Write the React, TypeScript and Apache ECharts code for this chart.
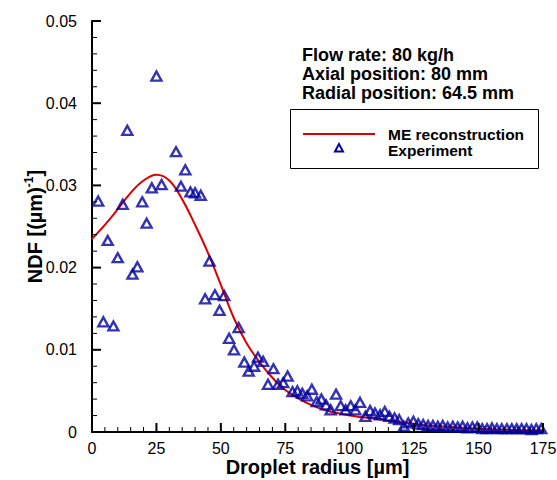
import React, { useEffect, useRef } from "react";
import * as echarts from "echarts";

// ME reconstruction curve (radius in µm, NDF in 1/µm)
const curveR = [0, 5, 10, 15, 20, 25, 30, 35, 40, 45, 50, 55, 60, 65, 70, 75, 80, 85, 90, 95, 100, 105, 110, 115, 120, 125, 130, 135, 140, 145, 150, 155, 160, 165, 170, 175];
const curveV = [0.0235, 0.0252, 0.0271, 0.0291, 0.0306, 0.0313, 0.0306, 0.0283, 0.0252, 0.0218, 0.0179, 0.0139, 0.0108, 0.0085, 0.0066, 0.0051, 0.0041, 0.0033, 0.0027, 0.0023, 0.002, 0.0018, 0.0016, 0.0014, 0.0012, 0.001, 0.0008, 0.0007, 0.0006, 0.0005, 0.0004, 0.0003, 0.0003, 0.0002, 0.0002, 0.0002];

// Experimental points
const expR = [2.4, 4.4, 6.1, 8.3, 10.0, 11.9, 13.7, 15.7, 17.6, 19.5, 21.2, 23.2, 25.0, 27.0, 32.6, 34.5, 36.2, 38.2, 40.0, 42.2, 43.9, 45.6, 47.7, 49.5, 51.3, 53.2, 55.1, 56.9, 59.1, 60.8, 62.9, 64.4, 66.4, 68.3, 70.4, 72.2, 74.2, 75.9, 77.8, 79.7, 81.6, 83.5, 85.3, 87.2, 89.0, 90.8, 92.6, 94.7, 96.5, 98.4, 100.4, 102.2, 104.0, 106.1, 107.9, 109.8, 111.8, 113.6, 115.4, 117.4, 119.2, 121.0, 122.7, 124.7, 126.6, 128.5, 130.4, 132.3, 134.2, 136.1, 138.0, 140.0, 141.9, 143.8, 145.7, 147.6, 149.5, 151.4, 153.3, 155.2, 157.1, 159.0, 161.0, 162.9, 164.8, 166.7, 168.6, 170.5, 172.4, 174.3];
const expV = [0.0281, 0.0134, 0.0233, 0.0129, 0.0212, 0.0277, 0.0367, 0.0192, 0.0201, 0.028, 0.0254, 0.0297, 0.0433, 0.0301, 0.0341, 0.0299, 0.0319, 0.0292, 0.0291, 0.0288, 0.0162, 0.0208, 0.0167, 0.0148, 0.0166, 0.0114, 0.01, 0.0127, 0.0085, 0.0074, 0.008, 0.0091, 0.0086, 0.0058, 0.0077, 0.0058, 0.006, 0.0068, 0.0049, 0.005, 0.0047, 0.0044, 0.0052, 0.0037, 0.004, 0.0033, 0.0027, 0.0046, 0.0032, 0.0027, 0.0032, 0.0027, 0.0036, 0.0019, 0.0026, 0.0023, 0.0021, 0.0025, 0.0019, 0.0017, 0.0015, 0.0007, 0.0011, 0.0013, 0.001, 0.0009, 0.0008, 0.0008, 0.0007, 0.0008, 0.0006, 0.0007, 0.0006, 0.0007, 0.0005, 0.0006, 0.0006, 0.0004, 0.0004, 0.0005, 0.0004, 0.0004, 0.0004, 0.0004, 0.0004, 0.0004, 0.0004, 0.0003, 0.0004, 0.0004];

const annotationLines = ["Flow rate: 80 kg/h", "Axial position: 80 mm", "Radial position: 64.5 mm"];
const legendNames = ["ME reconstruction", "Experiment"];

// Axis ranges / tick steps
const X_MIN = 0, X_MAX = 175, X_MAJOR = 25, X_MINOR = 5;
const Y_MIN = 0, Y_MAX = 0.05, Y_MAJOR = 0.01, Y_MINOR = 0.002;

const GRID = { left: 92, right: 14, top: 21, bottom: 48 };
const W = 557, H = 480;

const FONT = "'Liberation Sans', Arial, Helvetica, sans-serif";
const BLUE = "#0000a0";
const RED = "#dd0000";

export default function App() {
  const ref = useRef<HTMLDivElement>(null);
  useEffect(() => {
    document.body.style.margin = "0";
    if (!ref.current) return;
    const chart = echarts.init(ref.current, null, { renderer: "svg" });

    // axis tick marks (inside), placed on the grid's linear axis extent
    const pw = W - GRID.left - GRID.right;
    const ph = H - GRID.top - GRID.bottom;
    const xPx = (v: number) => GRID.left + ((v - X_MIN) / (X_MAX - X_MIN)) * pw;
    const yPx = (v: number) => H - GRID.bottom - ((v - Y_MIN) / (Y_MAX - Y_MIN)) * ph;
    const ticks: any[] = [];
    const nx = Math.round((X_MAX - X_MIN) / X_MINOR);
    const xEvery = Math.round(X_MAJOR / X_MINOR);
    for (let i = 0; i <= nx; i++) {
      const major = i % xEvery === 0;
      const px = xPx(X_MIN + i * X_MINOR);
      const py = yPx(Y_MIN);
      ticks.push({
        type: "line",
        silent: true,
        shape: { x1: px, y1: py, x2: px, y2: py - (major ? 9 : 5) },
        style: { stroke: "#000000", lineWidth: major ? 2 : 1 },
        z: 50,
      });
    }
    const ny = Math.round((Y_MAX - Y_MIN) / Y_MINOR);
    const yEvery = Math.round(Y_MAJOR / Y_MINOR);
    for (let i = 0; i <= ny; i++) {
      const major = i % yEvery === 0;
      const px = xPx(X_MIN);
      const py = yPx(Y_MIN + i * Y_MINOR);
      ticks.push({
        type: "line",
        silent: true,
        shape: { x1: px, y1: py, x2: px + (major ? 9 : 5), y2: py },
        style: { stroke: "#000000", lineWidth: major ? 2 : 1 },
        z: 50,
      });
    }

    const legendAndText: any[] = [
      ...annotationLines.map((t, i) => ({
        type: "text",
        x: 302,
        y: 46 + i * 19,
        style: { text: t, font: `bold 18px ${FONT}`, fill: "#000" },
        z: 10,
      })),
      {
        type: "rect",
        shape: { x: 290.5, y: 109.5, width: 248, height: 59 },
        style: { fill: "#fff", stroke: "#000", lineWidth: 1 },
        z: 10,
      },
      {
        type: "line",
        shape: { x1: 303, y1: 134, x2: 375, y2: 134 },
        style: { stroke: RED, lineWidth: 2 },
        z: 11,
      },
      {
        type: "polygon",
        shape: { points: [[339, 144], [335, 151.5], [343, 151.5]] },
        style: { fill: "none", stroke: BLUE, lineWidth: 2 },
        z: 11,
      },
      {
        type: "text",
        x: 388,
        y: 134,
        style: { text: legendNames[0], font: `bold 15.5px ${FONT}`, fill: "#000", verticalAlign: "middle" },
        z: 11,
      },
      {
        type: "text",
        x: 388,
        y: 150,
        style: { text: legendNames[1], font: `bold 15.5px ${FONT}`, fill: "#000", verticalAlign: "middle" },
        z: 11,
      },
    ];

    chart.setOption({
      animation: false,
      backgroundColor: "#fff",
      textStyle: { fontFamily: FONT },
      grid: { ...GRID, outerBoundsMode: "none", containLabel: false },
      xAxis: {
        type: "value",
        min: X_MIN,
        max: X_MAX,
        interval: X_MAJOR,
        axisLine: { show: true, onZero: false, lineStyle: { color: "#000000", width: 2 } },
        axisTick: { show: false },
        minorTick: { show: false },
        splitLine: { show: false },
        axisLabel: { show: true, color: "#000", fontSize: 16, fontFamily: FONT, margin: 8 },
        name: "Droplet radius [µm]",
        nameLocation: "middle",
        nameGap: 25,
        nameMoveOverlap: false,
        nameTextStyle: { color: "#000", fontSize: 20, fontWeight: "bold", fontFamily: FONT, verticalAlign: "top" },
      },
      yAxis: {
        type: "value",
        min: Y_MIN,
        max: Y_MAX,
        interval: Y_MAJOR,
        axisLine: { show: true, onZero: false, lineStyle: { color: "#000000", width: 2 } },
        axisTick: { show: false },
        minorTick: { show: false },
        splitLine: { show: false },
        axisLabel: { show: true, color: "#000", fontSize: 16, fontFamily: FONT, margin: 15 },
        name: "{a|NDF [(µm)}{b|-1}{a|]}",
        nameLocation: "middle",
        nameGap: 45,
        nameMoveOverlap: false,
        nameRotate: 90,
        nameTextStyle: {
          color: "#000",
          fontFamily: FONT,
          rich: {
            a: { fontSize: 20, fontWeight: "bold", fontFamily: FONT, color: "#000", lineHeight: 24 },
            b: { fontSize: 12, fontWeight: "bold", fontFamily: FONT, color: "#000", verticalAlign: "top", lineHeight: 24, padding: [0, 0, 9, 0] },
          },
        },
      },
      series: [
        {
          name: legendNames[0],
          type: "line",
          data: curveR.map((r, i) => [r, curveV[i]]),
          smooth: 0.4,
          showSymbol: false,
          lineStyle: { color: RED, width: 2 },
          z: 2,
        },
        {
          name: legendNames[1],
          type: "scatter",
          data: expR.map((r, i) => [r, expV[i]]),
          symbol: "triangle",
          symbolSize: [10, 9],
          itemStyle: { color: "rgba(255,255,255,0)", borderColor: BLUE, borderWidth: 2.4 },
          z: 3,
        },
      ],
      graphic: [...legendAndText, ...ticks],
    });
    return () => chart.dispose();
  }, []);
  return <div ref={ref} style={{ width: 557, height: 480 }} />;
}
